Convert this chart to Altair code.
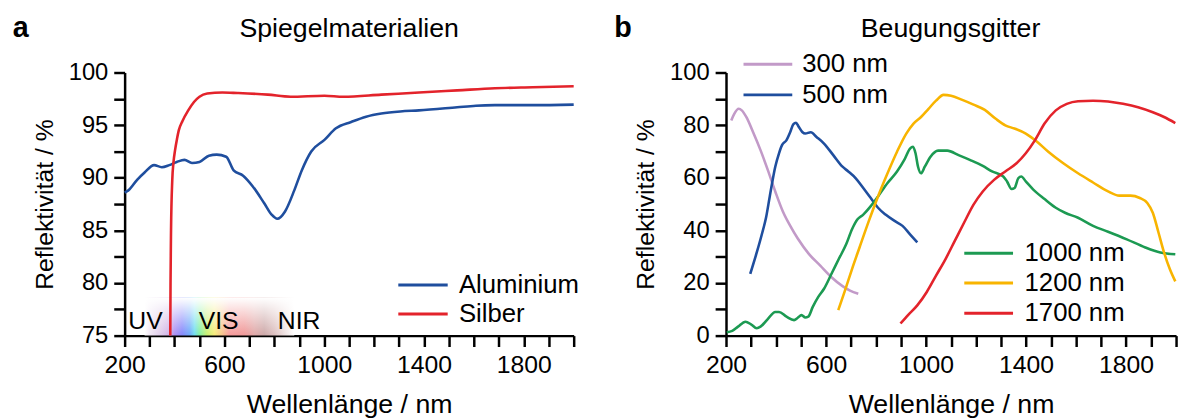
import altair as alt
import pandas as pd

FONT = "Liberation Sans"

# ---------------- panel a: Spiegelmaterialien ----------------
al_nm = [200, 215, 250, 280, 318, 349, 379, 409, 440, 470, 500, 538, 569, 607, 637, 675, 713, 759, 789, 812,
         843, 880, 910, 948, 1001, 1047, 1108, 1168, 1229, 1305, 1380, 1533, 1608, 1684, 1836, 2000]
al_r = [88.6, 88.8, 89.8, 90.5, 91.2, 91.0, 91.2, 91.5, 91.7, 91.4, 91.5, 92.1, 92.2, 92.0, 90.7, 90.2, 89.2,
        87.6, 86.5, 86.1, 86.8, 88.8, 90.7, 92.5, 93.6, 94.7, 95.3, 95.8, 96.1, 96.3, 96.4, 96.7, 96.85, 96.9,
        96.9, 96.95]
ag_nm = [383, 384, 386, 391, 396, 402, 410, 417, 432, 455, 478, 500, 531, 592, 652, 774, 865, 1001, 1077,
         1229, 1380, 1533, 1684, 1836, 2000]
ag_r = [75.0, 80.0, 85.0, 89.8, 91.5, 92.6, 93.7, 94.5, 95.4, 96.4, 97.2, 97.7, 98.0, 98.1, 98.05, 97.9, 97.7,
        97.8, 97.7, 97.9, 98.1, 98.3, 98.5, 98.6, 98.7]
series_a = ["Aluminium", "Silber"]
colors_a = ["#1f4e9e", "#e3232b"]

# spectrum band (wavelength stops and colours)
spec_nm = [280, 300, 340, 380, 400, 430, 460, 480, 500, 530, 560, 590, 620, 680, 720, 760, 800, 850, 880]
spec_col = ["#ffffff", "#f1e8f5", "#e0cdea", "#cfb0e6", "#ad90f2", "#8486fb", "#6ea8fb", "#70def0",
            "#82f0a2", "#c8f070", "#f6ec78", "#f7c48a", "#f69a9a", "#f09898", "#e0a8a8", "#cca8a8",
            "#ddc0c0", "#f2e8e8", "#ffffff"]
band_labels = ["UV", "VIS", "NIR"]
band_label_nm = [215, 497, 814]

# ---------------- panel b: Beugungsgitter ----------------
g300_nm = [221, 233, 251, 263, 281, 308, 338, 367, 397, 427, 457, 487, 532, 577, 622, 666, 696, 729]
g300_r = [81.8, 84.3, 86.2, 85.6, 83.1, 77.4, 70.5, 63.0, 54.8, 47.3, 41.7, 36.9, 31.0, 26.6, 22.2, 18.8, 17.1, 15.9]

g500_nm = [297, 323, 345, 360, 375, 397, 412, 424, 442, 457, 469, 480, 490, 505, 517, 539, 562, 592, 629,
           666, 689, 719, 749, 779, 808, 838, 876, 906, 936, 965]
g500_r = [23.5, 31.6, 39.1, 44.8, 52.9, 64.2, 69.3, 72.4, 74.3, 77.4, 80.3, 80.9, 79.5, 77.4, 76.8, 77.3, 75.5,
          73.0, 68.6, 64.2, 62.4, 59.8, 56.1, 52.3, 48.6, 46.0, 43.5, 41.7, 38.5, 35.4]

g1000_nm = [203, 225, 248, 278, 300, 323, 338, 367, 397, 412, 442, 472, 487, 502, 517, 529, 547, 569, 592,
            622, 651, 681, 704, 726, 749, 779, 808, 846, 884, 913, 936, 948, 958, 968, 980, 995, 1018, 1048,
            1085, 1130, 1175, 1227, 1264, 1309, 1324, 1342, 1354, 1369, 1381, 1399, 1429, 1474, 1519, 1556,
            1608, 1668, 1728, 1803, 1877, 1937, 1997]
g1000_r = [1.3, 1.8, 3.4, 5.3, 4.3, 2.8, 3.4, 6.3, 9.0, 9.0, 7.2, 5.9, 6.8, 7.8, 6.9, 7.2, 10.9, 14.7, 17.8,
           23.5, 29.1, 34.8, 40.4, 44.2, 46.0, 49.2, 52.9, 58.0, 62.4, 66.8, 71.1, 71.8, 69.3, 64.2, 61.7,
           64.2, 68.0, 70.3, 70.3, 68.6, 66.8, 64.5, 62.4, 60.5, 58.6, 55.7, 56.1, 59.8, 60.5, 58.6, 55.5,
           51.9, 48.6, 46.7, 44.8, 41.7, 39.5, 36.6, 33.5, 31.6, 30.9]

g1200_nm = [649, 674, 704, 734, 771, 808, 846, 884, 921, 950, 980, 1010, 1040, 1070, 1100, 1145, 1190, 1235,
            1279, 1317, 1354, 1399, 1444, 1489, 1549, 1608, 1668, 1728, 1773, 1818, 1855, 1885, 1907, 1930,
            1952, 1975, 1997]
g1200_r = [9.7, 16.6, 25.3, 33.5, 43.5, 52.9, 61.7, 69.9, 76.8, 80.6, 83.1, 86.2, 89.3, 91.5, 91.2, 89.6, 87.8,
           85.8, 82.4, 79.9, 78.7, 76.8, 73.7, 69.9, 65.5, 61.7, 58.2, 54.8, 53.2, 53.2, 52.3, 50.4, 46.7, 39.1,
           31.6, 25.3, 20.6]

g1700_nm = [898, 928, 965, 1003, 1040, 1078, 1115, 1152, 1190, 1227, 1272, 1317, 1362, 1399, 1436, 1474, 1519,
            1563, 1608, 1668, 1728, 1788, 1848, 1907, 1952, 1997]
g1700_r = [4.6, 7.8, 11.5, 16.6, 22.8, 29.1, 36.0, 42.9, 49.8, 54.8, 59.2, 62.4, 65.5, 69.3, 74.3, 80.6, 85.6,
           88.1, 89.1, 89.3, 89.0, 88.1, 86.8, 84.9, 83.1, 80.8]

series_b = ["300 nm", "500 nm", "1000 nm", "1200 nm", "1700 nm"]
colors_b = ["#c29ac8", "#1f4e9e", "#1c9a52", "#f8b400", "#e3232b"]

x_ticks = list(range(200, 2001, 100))
ya_ticks = [75 + 2.5 * i for i in range(11)]
yb_ticks = list(range(0, 101, 10))


def long_df(names, xs_list, ys_list):
    rows = []
    for n, xs, ys in zip(names, xs_list, ys_list):
        for x, y in zip(xs, ys):
            rows.append({"series": n, "nm": x, "R": y})
    return pd.DataFrame(rows)


W, H = 454, 266
LEG_FS = 26


def x_enc(field="nm"):
    return alt.X(f"{field}:Q",
                 scale=alt.Scale(domain=[200, 2000], nice=False, zero=False),
                 axis=alt.Axis(values=x_ticks, format="d", labelFlush=False, labelOverlap=False,
                               labelExpr="(datum.value - 200) % 400 == 0 ? datum.label : ''",
                               title="Wellenlänge / nm"))


def y_enc(dom, ticks, every, field="R"):
    return alt.Y(f"{field}:Q",
                 scale=alt.Scale(domain=dom, nice=False, zero=False),
                 axis=alt.Axis(values=ticks, format="d", labelOverlap=False, labelFlush=False,
                               labelExpr=f"datum.value % {every} == 0 ? datum.label : ''",
                               title="Reflektivität / %"))


def legend_layers(labels, names, colors, x0, x1, xt, ys, dom, ticks, every):
    df = pd.DataFrame({"series": labels, "x0": [x0] * len(labels), "x1": [x1] * len(labels),
                       "xt": [xt] * len(labels), "y": ys})
    cscale = alt.Scale(domain=names, range=colors)
    rule = alt.Chart(df).mark_rule(strokeWidth=3).encode(
        x=x_enc("x0"), x2="x1:Q", y=y_enc(dom, ticks, every, "y"),
        color=alt.Color("series:N", scale=cscale, legend=None))
    txt = alt.Chart(df).mark_text(align="left", baseline="middle", fontSize=LEG_FS, font=FONT,
                                  color="black").encode(
        x=x_enc("xt"), y=y_enc(dom, ticks, every, "y"), text="series:N")
    return [rule, txt]


def header_layers(title, letter):
    t = alt.Chart(pd.DataFrame({"t": [title]})).mark_text(
        align="center", baseline="middle", fontSize=27, font=FONT, color="black").encode(
        x=alt.value(W / 2), y=alt.value(-44), text="t:N")
    l = alt.Chart(pd.DataFrame({"t": [letter]})).mark_text(
        align="left", baseline="middle", fontSize=29, fontWeight="bold", font=FONT, color="black").encode(
        x=alt.value(-113), y=alt.value(-45), text="t:N")
    return [t, l]


# ---- panel a ----
dfa = long_df(series_a, [al_nm, ag_nm], [al_r, ag_r])
dom_a = [75, 100]

band_df = pd.DataFrame({"lo": [spec_nm[0]], "hi": [spec_nm[-1]], "b": [75.0], "t": [78.6]})
span = spec_nm[-1] - spec_nm[0]
grad_h = alt.Gradient(gradient="linear", x1=0, x2=1, y1=0, y2=0,
                      stops=[alt.GradientStop(offset=(n - spec_nm[0]) / span, color=c)
                             for n, c in zip(spec_nm, spec_col)])
grad_v = alt.Gradient(gradient="linear", x1=0, x2=0, y1=0, y2=1,
                      stops=[alt.GradientStop(offset=0, color="rgba(255,255,255,1)"),
                             alt.GradientStop(offset=0.45, color="rgba(255,255,255,0.55)"),
                             alt.GradientStop(offset=1, color="rgba(255,255,255,0)")])
band = alt.Chart(band_df).mark_rect(color=grad_h).encode(
    x=x_enc("lo"), x2="hi:Q", y=y_enc(dom_a, ya_ticks, 5, "b"), y2="t:Q")
band_fade = alt.Chart(band_df).mark_rect(color=grad_v).encode(
    x=x_enc("lo"), x2="hi:Q", y=y_enc(dom_a, ya_ticks, 5, "b"), y2="t:Q")
band_txt = alt.Chart(pd.DataFrame({"lab": band_labels, "nm": band_label_nm, "y": [75.6] * 3})).mark_text(
    align="left", baseline="alphabetic", fontSize=25, font=FONT, color="black").encode(
    x=x_enc("nm"), y=y_enc(dom_a, ya_ticks, 5, "y"), text="lab:N")

lines_a = alt.Chart(dfa).mark_line(strokeWidth=2.6, interpolate="monotone").encode(
    x=x_enc(), y=y_enc(dom_a, ya_ticks, 5),
    color=alt.Color("series:N", scale=alt.Scale(domain=series_a, range=colors_a), legend=None),
    detail="series:N")

leg_a = legend_layers(series_a, series_a, colors_a, 1297, 1495, 1540, [79.8, 77.05], dom_a, ya_ticks, 5)
panel_a = alt.layer(band, band_fade, band_txt, lines_a, *leg_a,
                    *header_layers("Spiegelmaterialien", "a")).properties(width=W, height=H)

# ---- panel b ----
dfb = long_df(series_b, [g300_nm, g500_nm, g1000_nm, g1200_nm, g1700_nm],
              [g300_r, g500_r, g1000_r, g1200_r, g1700_r])
dom_b = [0, 100]
lines_b = alt.Chart(dfb).mark_line(strokeWidth=2.6, interpolate="monotone").encode(
    x=x_enc(), y=y_enc(dom_b, yb_ticks, 20),
    color=alt.Color("series:N", scale=alt.Scale(domain=series_b, range=colors_b), legend=None),
    detail="series:N")
leg_b1 = legend_layers(series_b[:2], series_b, colors_b, 270, 465, 505, [103.1, 91.5], dom_b, yb_ticks, 20)
leg_b2 = legend_layers(series_b[2:], series_b, colors_b, 1153, 1348, 1394, [31.3, 20.0, 8.5],
                       dom_b, yb_ticks, 20)
panel_b = alt.layer(lines_b, *leg_b1, *leg_b2,
                    *header_layers("Beugungsgitter", "b")).properties(width=455, height=H)

chart = alt.hconcat(panel_a, panel_b, spacing=35).resolve_scale(color="independent").properties(
    padding={"left": 13, "top": 12, "right": 0, "bottom": 0}
).configure_view(stroke=None).configure_axis(
    domainColor="black", domainWidth=2.5, tickColor="black", tickWidth=2.5, tickSize=11,
    labelColor="black", titleColor="black", labelFont=FONT, titleFont=FONT,
    titleFontWeight="normal", grid=False
).configure_axisY(
    minExtent=56, maxExtent=56, titlePadding=12, labelPadding=6, labelFontSize=24, titleFontSize=25
).configure_axisX(
    labelPadding=6, titlePadding=15, labelFontSize=25, titleFontSize=27
)

chart.save("out.html", embed_options={"renderer": "svg", "actions": False})
